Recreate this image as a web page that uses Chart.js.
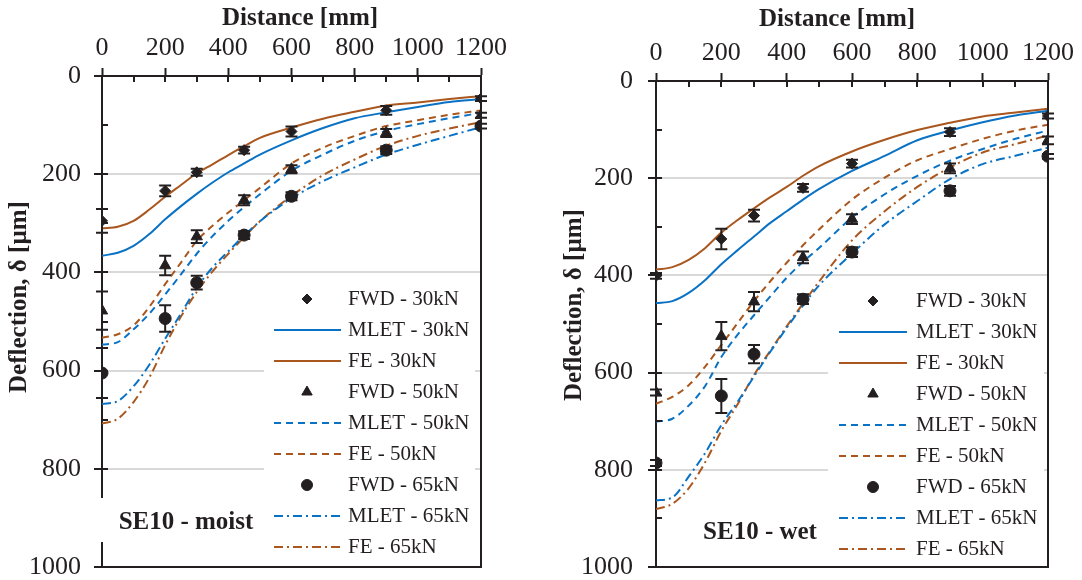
<!DOCTYPE html>
<html>
<head>
<meta charset="utf-8">
<script src="https://cdn.jsdelivr.net/npm/chart.js@4.4.1/dist/chart.umd.min.js"></script>
<style>
  html, body { margin: 0; padding: 0; background: #fff; }
  #wrap { position: relative; width: 1082px; height: 580px; }
  canvas { position: absolute; top: 0; }
  #moist { left: 0; }
  #wet { left: 540px; }
</style>
</head>
<body>
<div id="wrap">
  <canvas id="moist" width="540" height="580"></canvas>
  <canvas id="wet" width="542" height="580"></canvas>
</div>
<script>
'use strict';

// distances (mm)
const fwdDist = [0, 200, 300, 450, 600, 900, 1200];
const modelDist = [0, 50, 100, 150, 200, 250, 300, 350, 400, 450, 500, 600, 700, 800, 900, 1000, 1100, 1200];

// SE10 - moist, deflections in µm
const moistFwd30 = [295, 234, 196, 151, 113, 70, 46];
const moistFwd30Err = [24, 11, 7, 7, 10, 9, 5];
const moistFwd50 = [478, 386, 327, 253, 190, 116, 80];
const moistFwd50Err = [39, 20, 13, 10, 8, 8, 5];
const moistFwd65 = [605, 494, 421, 324, 245, 151, 102];
const moistFwd65Err = [51, 27, 14, 8, 8, 8, 5];
const moistMlet30 = [366, 360, 346, 322, 292, 265, 240, 217, 196, 178, 160, 131, 106, 86, 74, 63, 53, 47];
const moistFe30 = [310, 307, 295, 272, 246, 222, 198, 180, 161, 143, 126, 105, 87, 73, 60, 54, 47, 41];
const moistMlet50 = [547, 542, 516, 484, 445, 404, 362, 326, 295, 267, 241, 193, 160, 132, 112, 98, 86, 75];
const moistFe50 = [533, 526, 508, 470, 424, 380, 336, 305, 278, 253, 228, 178, 146, 122, 102, 90, 79, 70];
const moistMlet65 = [668, 662, 632, 588, 535, 484, 431, 390, 357, 325, 296, 249, 214, 186, 160, 140, 122, 104];
const moistFe65 = [708, 698, 664, 614, 548, 490, 440, 398, 362, 328, 296, 244, 202, 170, 142, 122, 107, 94];

// SE10 - wet
const wetFwd30 = [401, 325, 277, 220, 170, 105, 72];
const wetFwd30Err = [6, 21, 12, 8, 8, 8, 5];
const wetFwd50 = [641, 525, 454, 363, 284, 180, 122];
const wetFwd50Err = [6, 29, 20, 12, 10, 10, 8];
const wetFwd65 = [786, 648, 562, 449, 352, 226, 155];
const wetFwd65Err = [6, 35, 19, 10, 10, 10, 5];
const wetMlet30 = [457, 453, 436, 410, 377, 348, 320, 292, 268, 244, 222, 185, 154, 122, 102, 85, 71, 61];
const wetFe30 = [388, 383, 368, 344, 312, 286, 262, 239, 218, 195, 175, 145, 121, 101, 86, 73, 65, 57];
const wetMlet50 = [701, 695, 668, 628, 568, 522, 482, 443, 405, 372, 343, 281, 233, 195, 164, 140, 119, 102];
const wetFe50 = [664, 650, 626, 588, 543, 498, 453, 412, 374, 338, 305, 244, 199, 163, 140, 119, 102, 90];
const wetMlet65 = [863, 857, 814, 766, 708, 660, 608, 557, 508, 462, 420, 355, 295, 247, 202, 171, 154, 137];
const wetFe65 = [881, 870, 838, 785, 720, 665, 605, 555, 505, 458, 412, 328, 268, 218, 178, 147, 130, 112];

const xTitle = 'Distance [mm]';
const yTitle = 'Deflection, δ [µm]';

const ink = '#231f20';
const blue = '#0a72c4';
const brown = '#a9571e';
const serif = '"Liberation Serif", "Times New Roman", serif';
const dashed = [7, 5];
const dashDot = [9, 4, 2, 4];

function pts(xs, ys) {
  return xs.map((x, i) => ({ x: x, y: ys[i] }));
}

function fwdSet(label, values, errors, style, radius) {
  return {
    label: label,
    data: pts(fwdDist, values),
    errors: errors,
    showLine: false,
    pointStyle: style,
    pointRadius: radius,
    pointBackgroundColor: ink,
    pointBorderColor: ink,
    pointBorderWidth: 1,
  };
}

function modelSet(label, values, color, dash) {
  return {
    label: label,
    data: pts(modelDist, values),
    showLine: true,
    borderColor: color,
    borderWidth: 2,
    borderDash: dash,
    pointRadius: 0,
    cubicInterpolationMode: 'monotone',
  };
}

// legend box, error bars, inner ticks, frame, axis titles and panel tag
const frameBits = {
  id: 'frameBits',
  beforeDatasetsDraw(chart, args, opts) {
    const ctx = chart.ctx;
    const b = opts.legendBox;
    ctx.save();
    ctx.fillStyle = '#fff';
    ctx.fillRect(b[0], b[1], b[2], b[3]);
    ctx.restore();
  },
  afterDatasetsDraw(chart) {
    const ctx = chart.ctx;
    const xs = chart.scales.x;
    const ys = chart.scales.y;
    const a = chart.chartArea;
    ctx.save();
    ctx.strokeStyle = ink;
    ctx.lineWidth = 2;
    // error bars
    chart.data.datasets.forEach((ds) => {
      if (!ds.errors) return;
      ds.data.forEach((p, i) => {
        const px = xs.getPixelForValue(p.x);
        const top = ys.getPixelForValue(p.y - ds.errors[i]);
        const bot = ys.getPixelForValue(p.y + ds.errors[i]);
        ctx.beginPath();
        ctx.moveTo(px, top); ctx.lineTo(px, bot);
        ctx.moveTo(px - 6, top); ctx.lineTo(px + 6, top);
        ctx.moveTo(px - 6, bot); ctx.lineTo(px + 6, bot);
        ctx.stroke();
      });
    });
    // inner tick marks
    ctx.beginPath();
    for (let v = 0; v <= 1200; v += 100) {
      const px = Math.round(xs.getPixelForValue(v));
      ctx.moveTo(px, a.top); ctx.lineTo(px, a.top + 6);
    }
    for (let v = 0; v <= 1000; v += 100) {
      const py = Math.round(ys.getPixelForValue(v));
      ctx.moveTo(a.left, py); ctx.lineTo(a.left + 6, py);
    }
    // right and bottom frame
    ctx.moveTo(a.right, a.top); ctx.lineTo(a.right, a.bottom);
    ctx.moveTo(a.left - 8, a.bottom); ctx.lineTo(a.right + 1, a.bottom);
    ctx.stroke();
    ctx.restore();
  },
  afterDraw(chart, args, opts) {
    const ctx = chart.ctx;
    ctx.save();
    // axis titles
    ctx.font = 'bold 25px ' + serif;
    ctx.fillStyle = ink;
    ctx.textAlign = 'center';
    ctx.textBaseline = 'middle';
    ctx.fillText(xTitle, opts.xTitleAt[0], opts.xTitleAt[1]);
    ctx.save();
    ctx.translate(opts.yTitleAt[0], opts.yTitleAt[1]);
    ctx.rotate(-Math.PI / 2);
    ctx.fillText(yTitle, 0, 0);
    ctx.restore();
    // legend
    ctx.font = '21px ' + serif;
    ctx.textAlign = 'left';
    chart.data.datasets.forEach((ds, i) => {
      const y = opts.rowTop + i * opts.rowH;
      if (ds.showLine) {
        ctx.strokeStyle = ds.borderColor;
        ctx.lineWidth = ds.borderWidth;
        ctx.setLineDash(ds.borderDash || []);
        ctx.beginPath();
        ctx.moveTo(opts.lineX, y);
        ctx.lineTo(opts.lineX + opts.lineW, y);
        ctx.stroke();
        ctx.setLineDash([]);
      } else {
        ctx.fillStyle = ink;
        ctx.strokeStyle = ink;
        ctx.lineWidth = 1;
        Chart.helpers.drawPoint(ctx, { pointStyle: ds.pointStyle, radius: ds.pointRadius - 0.5, rotation: 0, borderWidth: 1 }, opts.markX, y);
      }
      ctx.fillStyle = ink;
      ctx.fillText(ds.label, opts.textX, y);
    });
    // panel tag
    const t = opts.tag;
    if (t.box) {
      ctx.fillStyle = '#fff';
      ctx.fillRect(t.box[0], t.box[1], t.box[2], t.box[3]);
    }
    ctx.font = 'bold 25px ' + serif;
    ctx.fillStyle = ink;
    ctx.textAlign = 'center';
    ctx.fillText(t.text, t.x, t.y);
    ctx.restore();
  },
};

function buildChart(id, sets, lay) {
  const datasets = [
    fwdSet('FWD - 30kN', sets.fwd30, sets.fwd30Err, 'rectRot', 5.5),
    modelSet('MLET - 30kN', sets.mlet30, blue, []),
    modelSet('FE - 30kN', sets.fe30, brown, []),
    fwdSet('FWD - 50kN', sets.fwd50, sets.fwd50Err, 'triangle', 6.5),
    modelSet('MLET - 50kN', sets.mlet50, blue, dashed),
    modelSet('FE - 50kN', sets.fe50, brown, dashed),
    fwdSet('FWD - 65kN', sets.fwd65, sets.fwd65Err, 'circle', 6),
    modelSet('MLET - 65kN', sets.mlet65, blue, dashDot),
    modelSet('FE - 65kN', sets.fe65, brown, dashDot),
  ];

  return new Chart(document.getElementById(id), {
    type: 'scatter',
    data: { datasets: datasets },
    plugins: [frameBits],
    options: {
      responsive: false,
      animation: false,
      events: [],
      layout: { padding: { left: 0, top: 0, right: lay.padRight, bottom: 13 } },
      plugins: {
        legend: { display: false },
        tooltip: { enabled: false },
        frameBits: lay.frame,
      },
      scales: {
        x: {
          type: 'linear',
          position: 'top',
          min: 0,
          max: 1200,
          afterFit: (s) => { s.height = lay.xHeight; },
          ticks: {
            stepSize: 100,
            autoSkip: false,
            maxRotation: 0,
            padding: 7,
            color: ink,
            font: { family: serif, size: 26, lineHeight: 1 },
            callback: (v) => (v % 200 === 0 ? v : ''),
          },
          grid: {
            color: 'transparent',
            tickLength: 8,
            tickWidth: 2,
            tickColor: (c) => (c.tick && c.tick.value % 200 === 0 ? ink : 'transparent'),
          },
          border: { color: ink, width: 2 },
        },
        y: {
          type: 'linear',
          reverse: true,
          min: 0,
          max: 1000,
          afterFit: (s) => {
            s.width = lay.yWidth;
            // the label overhang is covered by layout padding
            s.paddingTop = 0;
            s.paddingBottom = 0;
          },
          ticks: {
            stepSize: 100,
            padding: lay.yPad,
            color: ink,
            font: { family: serif, size: 26, lineHeight: 1 },
            callback: (v) => (v % 200 === 0 ? v : ''),
          },
          grid: {
            color: (c) => (c.tick && c.tick.value % 200 === 0 && c.tick.value > 0 && c.tick.value < 1000 ? '#d9d9d9' : 'transparent'),
            lineWidth: 2,
            tickLength: 8,
            tickWidth: 2,
            tickColor: (c) => (c.tick && c.tick.value % 200 === 0 ? ink : 'transparent'),
          },
          border: { color: ink, width: 2 },
        },
      },
    },
  });
}

buildChart('moist', {
  fwd30: moistFwd30, fwd30Err: moistFwd30Err,
  fwd50: moistFwd50, fwd50Err: moistFwd50Err,
  fwd65: moistFwd65, fwd65Err: moistFwd65Err,
  mlet30: moistMlet30, fe30: moistFe30,
  mlet50: moistMlet50, fe50: moistFe50,
  mlet65: moistMlet65, fe65: moistFe65,
}, {
  padRight: 59, xHeight: 76, yWidth: 102, yPad: 13,
  frame: {
    xTitleAt: [300, 19], yTitleAt: [20, 297],
    legendBox: [264, 283, 211, 280],
    rowTop: 299, rowH: 31, lineX: 274, lineW: 67, markX: 307, textX: 348,
    tag: { text: 'SE10 - moist', x: 186, y: 523, box: [96, 498, 172, 44] },
  },
});

buildChart('wet', {
  fwd30: wetFwd30, fwd30Err: wetFwd30Err,
  fwd50: wetFwd50, fwd50Err: wetFwd50Err,
  fwd65: wetFwd65, fwd65Err: wetFwd65Err,
  mlet30: wetMlet30, fe30: wetFe30,
  mlet50: wetMlet50, fe50: wetFe50,
  mlet65: wetMlet65, fe65: wetFe65,
}, {
  padRight: 34, xHeight: 81, yWidth: 116, yPad: 15,
  frame: {
    xTitleAt: [297, 20], yTitleAt: [35, 305],
    legendBox: [288, 286, 216, 278],
    rowTop: 301, rowH: 31, lineX: 299, lineW: 68, markX: 333, textX: 376,
    tag: { text: 'SE10 - wet', x: 220, y: 533 },
  },
});
</script>
</body>
</html>
